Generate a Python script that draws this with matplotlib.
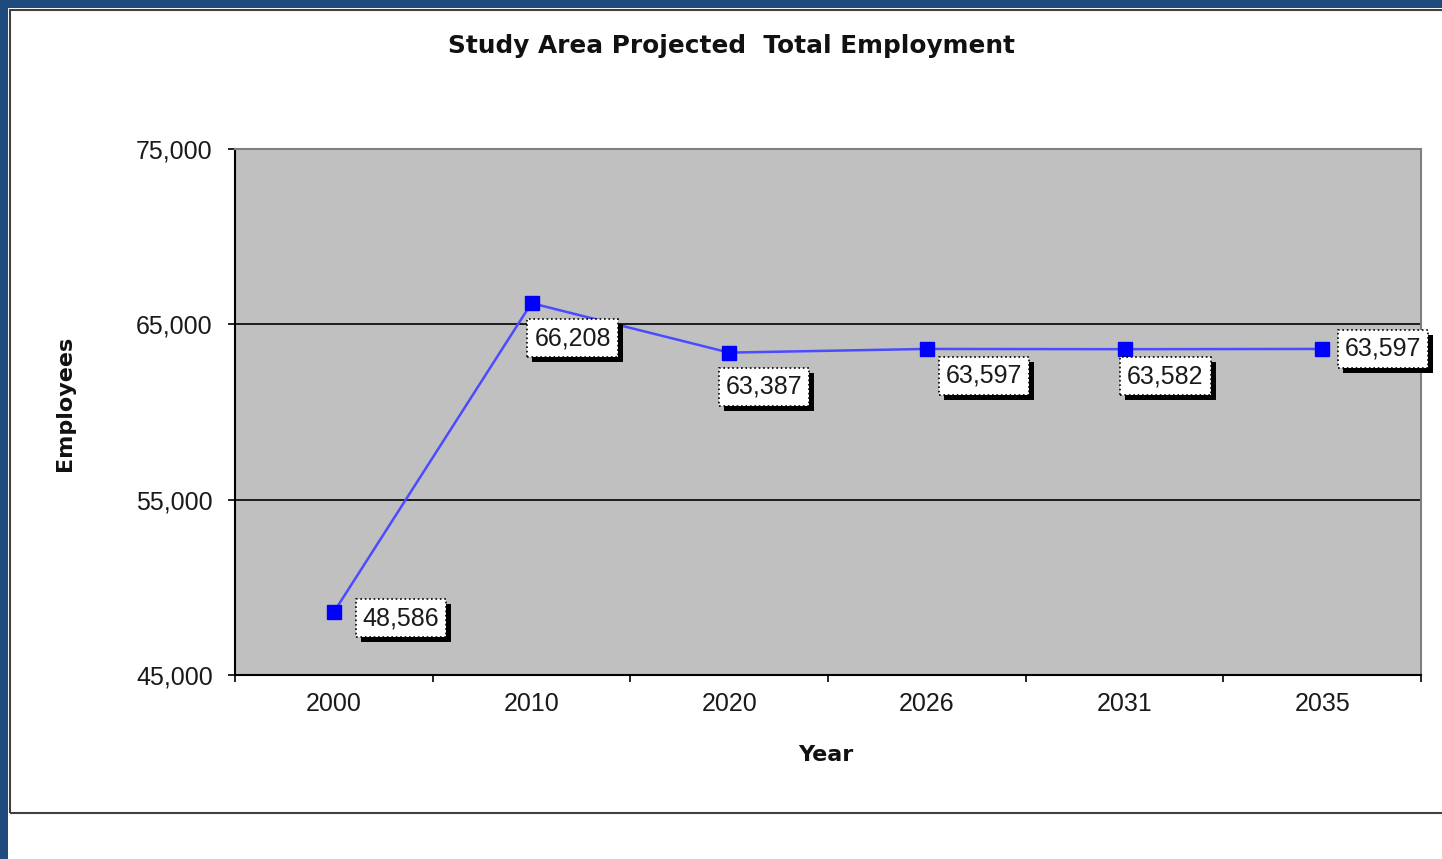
import matplotlib.pyplot as plt
import matplotlib.patheffects as pe
from matplotlib.patches import Rectangle
from matplotlib.ticker import FuncFormatter

plt.rcParams['font.family'] = ['Liberation Sans', 'DejaVu Sans']

# chart data
years = ['2000', '2010', '2020', '2026', '2031', '2035']
employees = [48586, 66208, 63387, 63597, 63582, 63597]

# label offsets in pixels (dx, dy) from each point
label_offsets = [(67, -6), (41, -35), (35, -34), (57, -27), (41, -27), (61, 0)]

W, H = 1442, 859
fig = plt.figure(figsize=(W / 100, H / 100), dpi=100)
fig.patch.set_facecolor('#1f4a7e')

# white chart background with grey frame
fig.patches.append(Rectangle((8 / W, 0), 1, 1 - 8 / H, transform=fig.transFigure,
                             facecolor='white', edgecolor='none', zorder=-3))
fig.patches.append(Rectangle((10 / W, 1 - 813 / H), 1, (813 - 10) / H, transform=fig.transFigure,
                             facecolor='none', edgecolor='#404040', linewidth=1.5, zorder=-2))

# plot area: x 235..1421, y 149..675 px
ax = fig.add_axes([235 / W, 1 - 675 / H, (1421 - 235) / W, (675 - 149) / H])
ax.set_zorder(2)
ax.set_facecolor('#c0c0c0')

x = list(range(len(years)))
ax.plot(x, employees, color='#4b4bff', linewidth=1.8, zorder=3)
ax.plot(x, employees, linestyle='none', marker='s', markersize=10,
        color='#0000ff', zorder=4)

ax.set_xlim(-0.5, len(years) - 0.5)
ax.set_ylim(45000, 75000)
ax.set_yticks([45000, 55000, 65000, 75000])
ax.yaxis.set_major_formatter(FuncFormatter(lambda v, p: f'{int(v):,}'))
for yv in [55000, 65000]:
    ax.axhline(yv, color='black', linewidth=1.2, zorder=2)

# category labels at centers, ticks at boundaries
ax.set_xticks([i - 0.5 for i in range(len(years) + 1)])
ax.set_xticklabels([])
ax.set_xticks(x, minor=True)
ax.set_xticklabels(years, minor=True)
ax.tick_params(axis='x', which='minor', length=0, labelsize=18, pad=12, colors='#1a1a1a')
ax.tick_params(axis='x', which='major', length=5, width=1.2, direction='out')
ax.tick_params(axis='y', length=5, width=1.2, direction='out', labelsize=18, pad=11,
               labelcolor='#1a1a1a')

for side in ['left', 'bottom']:
    ax.spines[side].set_color('black')
    ax.spines[side].set_linewidth(1.5)
for side in ['top', 'right']:
    ax.spines[side].set_color('#808080')
    ax.spines[side].set_linewidth(1.5)

# data labels with dotted box and drop shadow
shadow = [pe.SimplePatchShadow(offset=(3.6, -3.6), shadow_rgbFace='black', alpha=1.0),
          pe.Normal()]
for i, v in enumerate(employees):
    dx, dy = label_offsets[i]
    t = ax.annotate(f'{v:,}', (i, v), xytext=(dx, dy), textcoords='offset pixels',
                    ha='center', va='center', fontsize=18, color='#1a1a1a', zorder=6,
                    bbox=dict(boxstyle='square,pad=0.28', facecolor='white', edgecolor='black',
                              linestyle=':', linewidth=1.2),
                    annotation_clip=False)
    t.get_bbox_patch().set_path_effects(shadow)

bold_font = ['DejaVu Sans']
fig.text(732 / W, 1 - 46 / H, 'Study Area Projected  Total Employment', ha='center', va='center',
         fontsize=17.8, fontweight='bold', color='#111111', family=bold_font)
fig.text(65 / W, 1 - 403 / H, 'Employees', ha='center', va='center', rotation=90,
         fontsize=16, fontweight='bold', color='#111111', family=bold_font)
fig.text(826 / W, 1 - 755 / H, 'Year', ha='center', va='center',
         fontsize=16, fontweight='bold', color='#111111', family=bold_font)

fig.savefig('out.png', dpi=100, facecolor=fig.get_facecolor())
